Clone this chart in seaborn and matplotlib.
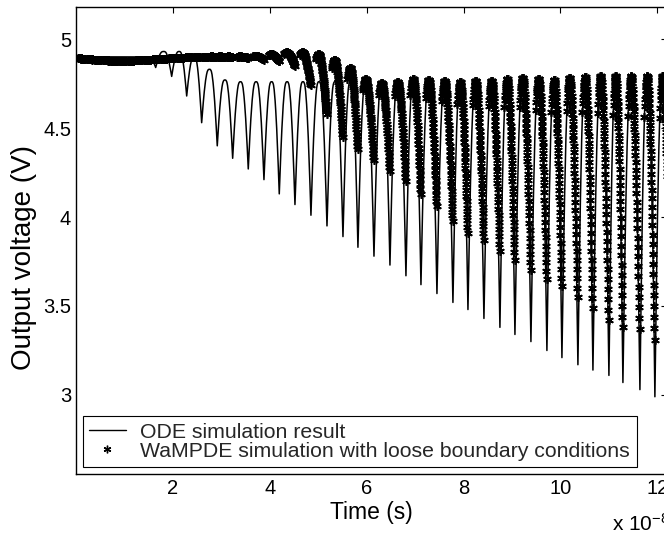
import numpy as np
import pandas as pd
import matplotlib
matplotlib.use("Agg")
import matplotlib.pyplot as plt
import seaborn as sns
from matplotlib.lines import Line2D

# ---- data (time in units of 1e-8 s, voltage in V) ----
# instants of the ODE troughs (cycle boundaries)
trough_t = [0.0, 0.365, 0.685, 1.005, 1.325, 1.645, 1.975, 2.285, 2.594, 2.916,
            3.234, 3.556, 3.880, 4.196, 4.520, 4.850, 5.181, 5.511, 5.820, 6.151,
            6.481, 6.811, 7.121, 7.451, 7.781, 8.091, 8.421, 8.751, 9.061, 9.391,
            9.721, 10.031, 10.361, 10.671, 11.001, 11.290, 11.641, 11.950, 12.281]

ode_trough_v = [4.90, 4.90, 4.90, 4.90, 4.90, 4.84, 4.79, 4.68, 4.53, 4.40,
                4.33, 4.27, 4.21, 4.13, 4.07, 4.01, 3.95, 3.89, 3.83, 3.78,
                3.73, 3.67, 3.62, 3.57, 3.52, 3.48, 3.43, 3.38, 3.34, 3.30,
                3.25, 3.21, 3.17, 3.14, 3.11, 3.07, 3.03, 2.99, 2.96]
ode_peak_v = [4.90, 4.90, 4.90, 4.90, 4.90, 4.93, 4.93, 4.90, 4.83, 4.77,
              4.76, 4.76, 4.76, 4.76, 4.76, 4.76, 4.76, 4.76, 4.76, 4.76,
              4.76, 4.76, 4.76, 4.76, 4.76, 4.76, 4.76, 4.77, 4.77, 4.77,
              4.77, 4.77, 4.77, 4.77, 4.77, 4.77, 4.77, 4.77]

# WaMPDE: segment boundaries (thick flat band first, then the oscillation cycles)
wam_cycle_t = [0.0, 0.17, 0.34, 0.51, 0.68, 0.85, 1.02, 1.19, 1.36, 1.53,
               1.70, 1.87, 2.04, 2.21, 2.38, 2.55, 2.72, 2.89, 3.06,
               3.234, 3.556, 3.880, 4.196, 4.520, 4.850, 5.181, 5.511, 5.820, 6.151,
               6.481, 6.811, 7.121, 7.451, 7.781, 8.091, 8.421, 8.751, 9.061, 9.391,
               9.721, 10.031, 10.361, 10.671, 11.001, 11.290, 11.641, 11.950, 12.281]
# lowest star of each column
wam_trough_v = [4.89, 4.888, 4.885, 4.882, 4.879, 4.877, 4.877, 4.878, 4.88, 4.883,
                4.886, 4.889, 4.892, 4.895, 4.897, 4.899, 4.90, 4.90, 4.90,
                4.90, 4.895, 4.885, 4.875, 4.85, 4.74, 4.58, 4.45, 4.38, 4.32,
                4.26, 4.20, 4.13, 4.06, 3.98, 3.91, 3.87, 3.81, 3.76, 3.70,
                3.65, 3.61, 3.55, 3.49, 3.42, 3.38, 3.37, 3.31, 3.27]
# top of each column
wam_peak_v = [4.891, 4.888, 4.885, 4.882, 4.879, 4.878, 4.879, 4.881, 4.884, 4.887,
              4.89, 4.893, 4.896, 4.898, 4.90, 4.901, 4.902, 4.902, 4.902,
              4.902, 4.905, 4.915, 4.925, 4.925, 4.915, 4.885, 4.84, 4.775, 4.753,
              4.758, 4.775, 4.77, 4.764, 4.758, 4.764, 4.764, 4.775, 4.781, 4.775,
              4.77, 4.781, 4.787, 4.792, 4.792, 4.792, 4.792, 4.792]

# normalised shape of half an ODE cycle (trough -> peak), phase step 1/48
half_shape = [0.0, 0.08, 0.16, 0.235, 0.31, 0.38, 0.45, 0.515, 0.58, 0.635,
              0.69, 0.74, 0.79, 0.83, 0.87, 0.90, 0.93, 0.952, 0.97, 0.982,
              0.99, 0.996, 0.999, 1.0, 1.0]
cycle_shape = half_shape + half_shape[-2::-1]
cycle_phase = [i / 48 for i in range(len(cycle_shape))]

# positions of the WaMPDE stars inside one cycle (phase, normalised height)
wam_phase = [0.30, 0.33, 0.36, 0.38,
             0.40, 0.41, 0.42, 0.43, 0.44, 0.45, 0.46, 0.47, 0.48, 0.49,
             0.510, 0.523, 0.536, 0.549, 0.562, 0.575, 0.588, 0.601, 0.614, 0.627,
             0.640, 0.653, 0.666, 0.679, 0.692, 0.705, 0.718, 0.731, 0.744, 0.757,
             0.770, 0.783, 0.796, 0.809, 0.822, 0.835, 0.848, 0.861, 0.874, 0.887,
             0.900, 0.913, 0.926, 0.939, 0.952, 0.965, 0.978]
wam_shape = [0.84, 0.88, 0.91, 0.93,
             0.945, 0.955, 0.965, 0.975, 0.985, 0.993, 0.998, 1.0, 1.0, 1.0,
             0.998, 0.992, 0.984, 0.974, 0.962, 0.948, 0.933, 0.917, 0.899, 0.880,
             0.860, 0.838, 0.816, 0.792, 0.767, 0.742, 0.715, 0.688, 0.660, 0.630,
             0.600, 0.568, 0.536, 0.502, 0.469, 0.434, 0.398, 0.362, 0.325, 0.287,
             0.248, 0.209, 0.168, 0.127, 0.086, 0.043, 0.0]

x_ticks = [2, 4, 6, 8, 10, 12]
y_ticks = [3, 3.5, 4, 4.5, 5]
y_tick_labels = ["3", "3.5", "4", "4.5", "5"]
legend_labels = ["ODE simulation result",
                 "WaMPDE simulation with loose boundary conditions"]


def build(bounds, tr_v, pk_v, phases, shape, closed):
    ts, vs = [], []
    n = len(bounds) - 1
    for k in range(n):
        t0, t1 = bounds[k], bounds[k + 1]
        for j, (ph, h) in enumerate(zip(phases, shape)):
            if closed and j == len(phases) - 1 and k < n - 1:
                continue
            base = tr_v[k] if ph <= 0.5 else tr_v[k + 1]
            ts.append(t0 + ph * (t1 - t0))
            vs.append(base + (pk_v[k] - base) * h)
    return ts, vs


ode_t, ode_v = build(trough_t, ode_trough_v, ode_peak_v, cycle_phase, cycle_shape, True)
wam_t, wam_v = build(wam_cycle_t, wam_trough_v, wam_peak_v, wam_phase, wam_shape, False)
ode_df = pd.DataFrame({"t": ode_t, "v": ode_v})
wam_df = pd.DataFrame({"t": wam_t, "v": wam_v})

sns.set_theme(style="white")
plt.rcParams["font.family"] = ["Liberation Sans", "DejaVu Sans"]
plt.rcParams["mathtext.fontset"] = "custom"
plt.rcParams["mathtext.rm"] = "Liberation Sans"
plt.rcParams["mathtext.it"] = "Liberation Sans"

W, H = 664, 534
fig = plt.figure(figsize=(W / 100, H / 100), dpi=100)
fig.patch.set_facecolor("white")
ax_l, ax_t, ax_b = 76, 7, 474
ax_w = 591
ax = fig.add_axes([ax_l / W, 1 - ax_b / H, ax_w / W, (ax_b - ax_t) / H])
ax.set_facecolor("white")

sns.lineplot(data=ode_df, x="t", y="v", ax=ax, color="black", linewidth=1.1,
             estimator=None, sort=False, legend=False)
star = (6, 2, 0)
ax.plot(wam_df["t"], wam_df["v"], linestyle="none", marker=star, markersize=6.2,
        markeredgewidth=1.2, color="black")

ax.set_xlim(0, 12.2)
ax.set_ylim(2.556, 5.18)
ax.set_xticks(x_ticks)
ax.set_xticklabels([str(v) for v in x_ticks])
ax.set_yticks(y_ticks)
ax.set_yticklabels(y_tick_labels)
ax.tick_params(direction="in", length=4.5, width=0.8, top=True, right=True,
               labelsize=14.5, colors="black", pad=3.5)
for s in ax.spines.values():
    s.set_visible(True)
    s.set_color("black")
    s.set_linewidth(1.0)

ax.set_xlabel("Time (s)", fontsize=16.5, color="black", labelpad=2)
ax.set_ylabel("")
fig.text(24 / W, 1 - 257 / H, "Output voltage (V)", fontsize=20, color="black",
         rotation=90, ha="center", va="center")

fig.text(612 / W, 1 - 531 / H, r"x 10$^{-8}$", fontsize=15, color="black",
         ha="left", va="baseline")

handles = [Line2D([], [], color="black", linewidth=1.0),
           Line2D([], [], linestyle="none", marker=star, markersize=5.5,
                  markeredgewidth=1.0, color="black")]
leg = ax.legend(handles, legend_labels, loc="lower left",
                bbox_to_anchor=(7 / ax_w, 7 / (ax_b - ax_t)), borderaxespad=0,
                fontsize=15.3, frameon=True, fancybox=False, shadow=False,
                edgecolor="black", framealpha=1, handlelength=1.7,
                handletextpad=0.7, labelspacing=0.0, borderpad=0.3)
leg.get_frame().set_linewidth(0.8)

fig.savefig("out.png", dpi=100, facecolor="white")
